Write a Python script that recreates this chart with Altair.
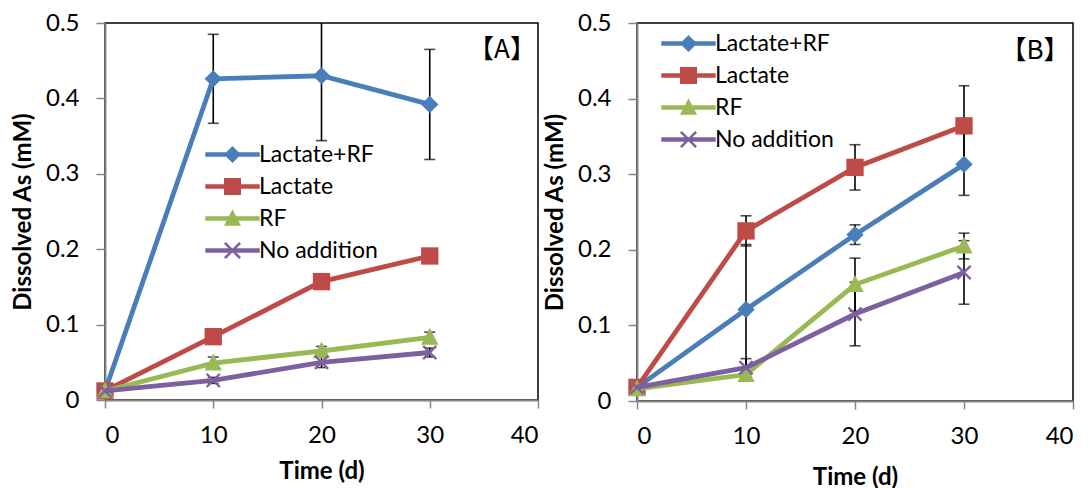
import altair as alt
import pandas as pd

days = [0, 10, 20, 30]
series = ["Lactate+RF", "Lactate", "RF", "No addition"]
colors = ["#4A7EBB", "#BE4B48", "#98B954", "#7D60A0"]
panels = ["A", "B"]
panel_labels = ["【A】", "【B】"]

# Panel A values / error bars (mM)
a_lrf = [0.012, 0.426, 0.430, 0.392]
a_lrf_err = [0.0, 0.059, 0.086, 0.073]
a_lac = [0.012, 0.084, 0.157, 0.191]
a_lac_err = [0.0, 0.004, 0.004, 0.004]
a_rf = [0.012, 0.049, 0.065, 0.083]
a_rf_err = [0.0, 0.008, 0.006, 0.007]
a_no = [0.012, 0.026, 0.050, 0.063]
a_no_err = [0.0, 0.004, 0.007, 0.006]

# Panel B values / error bars (mM)
b_lrf = [0.018, 0.121, 0.220, 0.313]
b_lrf_err = [0.0, 0.086, 0.013, 0.041]
b_lac = [0.018, 0.225, 0.309, 0.364]
b_lac_err = [0.0, 0.020, 0.030, 0.053]
b_rf = [0.016, 0.035, 0.154, 0.205]
b_rf_err = [0.0, 0.006, 0.035, 0.017]
b_no = [0.018, 0.044, 0.115, 0.170]
b_no_err = [0.0, 0.012, 0.042, 0.042]

values = {
    "A": [a_lrf, a_lac, a_rf, a_no],
    "B": [b_lrf, b_lac, b_rf, b_no],
}
errors = {
    "A": [a_lrf_err, a_lac_err, a_rf_err, a_no_err],
    "B": [b_lrf_err, b_lac_err, b_rf_err, b_no_err],
}

rows = []
for p in panels:
    for s, vals, errs in zip(series, values[p], errors[p]):
        for d, v, e in zip(days, vals, errs):
            rows.append({"panel": p, "series": s, "day": d, "value": v,
                         "err": e, "lo": v - e, "hi": v + e})
df = pd.DataFrame(rows)

# marker shapes (unit paths)
a = 0.22
xpath = (f"M0,{-a}L{1-a},-1L1,{-1+a}L{a},0L1,{1-a}L{1-a},1L0,{a}"
         f"L{-1+a},1L-1,{1-a}L{-a},0L-1,{-1+a}L{-1+a},-1Z")
marker_paths = [
    "M0,-1L1,0L0,1L-1,0Z",
    "M-1,-1H1V1H-1Z",
    "M0,-1.1L1,0.85H-1Z",
    xpath,
]
marker_sizes = [300, 300, 300, 220]
seg = "M-3.2,-0.27H3.2V0.27H-3.2Z "
legend_paths = [seg + p for p in marker_paths]

FONT = "Lato"


def make_panel(key, w, h, lx, ly, tpad, tx, ty, label):
    d = df[df.panel == key]
    base = alt.Chart(d)
    xs = alt.Scale(domain=[0, 40], nice=False)
    ys = alt.Scale(domain=[0, 0.5], nice=False)
    xaxis = alt.Axis(values=[0, 10, 20, 30, 40], title="Time (d)",
                     titlePadding=tpad, labelPadding=15, tickSize=8,
                     grid=False)
    yaxis = alt.Axis(values=[0, 0.1, 0.2, 0.3, 0.4, 0.5],
                     labelExpr="datum.value == 0 ? '0' : format(datum.value, '.1f')",
                     title="Dissolved As (mM)", titlePadding=10,
                     labelPadding=17, tickSize=9, grid=False)
    X = alt.X("day:Q", scale=xs, axis=xaxis)
    Y = alt.Y("value:Q", scale=ys, axis=yaxis)
    cscale = alt.Scale(domain=series, range=colors)

    eb = base.transform_filter(alt.datum.err > 0)
    rules = eb.mark_rule(color="black", strokeWidth=1.6, clip=True).encode(
        x=X, y=alt.Y("lo:Q", scale=ys, axis=yaxis), y2="hi:Q")
    caps_hi = eb.mark_tick(color="black", orient="horizontal", size=11,
                           thickness=1.6, clip=True).encode(
        x=X, y=alt.Y("hi:Q", scale=ys, axis=yaxis))
    caps_lo = eb.mark_tick(color="black", orient="horizontal", size=11,
                           thickness=1.6, clip=True).encode(
        x=X, y=alt.Y("lo:Q", scale=ys, axis=yaxis))

    layers = [rules, caps_hi, caps_lo]
    for s, c, pth, sz in zip(series, colors, marker_paths, marker_sizes):
        sd = base.transform_filter(alt.datum.series == s)
        layers.append(sd.mark_line(strokeWidth=4.8, color=c).encode(
            x=X, y=Y, order="day:Q"))
        layers.append(sd.mark_point(
            shape=pth, filled=True, color=c, size=sz, opacity=1,
            strokeWidth=0).encode(x=X, y=Y))

    leg = alt.Legend(title=None, orient="none", legendX=lx, legendY=ly,
                     symbolSize=289, symbolOpacity=1, symbolStrokeWidth=0,
                     labelFont=FONT, labelFontSize=23, labelColor="black",
                     labelOffset=15, rowPadding=8, padding=0,
                     labelLimit=400)
    legend_layer = base.mark_point(filled=True, opacity=0).encode(
        x=X, y=Y,
        color=alt.Color("series:N", scale=cscale, legend=leg),
        shape=alt.Shape("series:N",
                        scale=alt.Scale(domain=series, range=legend_paths),
                        legend=leg))
    layers.append(legend_layer)

    txt = alt.Chart(pd.DataFrame({"label": [label]})).mark_text(
        font="Noto Sans CJK SC", fontSize=26, color="black",
        align="center", baseline="middle").encode(
        x=alt.value(tx), y=alt.value(ty), text="label:N")
    layers.append(txt)

    return alt.layer(*layers).properties(width=w, height=h)


pa = make_panel("A", 433, 377, 116, 120, 12, 397, 27, panel_labels[0])
pb = make_panel("B", 436, 378, 40, 9, 17, 398, 28, panel_labels[1])

chart = alt.hconcat(pa, pb, spacing=99, bounds="flush").resolve_scale(
    color="independent", shape="independent").resolve_legend(
    color="independent", shape="independent").properties(
    padding={"left": 2, "top": 2, "right": 5, "bottom": 5},
    background="white"
).configure_view(stroke="black", strokeWidth=1.5).configure_axis(
    domainColor="#868686", domainWidth=2, tickColor="#868686", tickWidth=1.5,
    labelFont=FONT, labelFontSize=24, labelColor="black",
    titleFont=FONT, titleFontSize=24, titleFontWeight="bold",
    titleColor="black"
)

chart.save("out.html", embed_options={"renderer": "svg", "actions": False})
